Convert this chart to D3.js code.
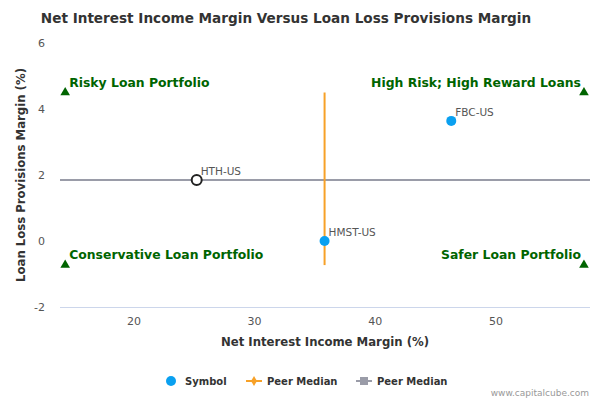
<!DOCTYPE html>
<html><head><meta charset="utf-8">
<script src="https://cdn.jsdelivr.net/npm/d3@7"></script>
<style>body{margin:0;background:#fff}text{font-family:"DejaVu Sans",sans-serif}</style>
</head><body><svg id="c" width="600" height="400"></svg>
<script>
// data
var symbols = ["FBC-US", "HTH-US", "HMST-US"];
var nimValues = [46.3, 25.2, 35.8];
var llpValues = [3.64, 1.85, 0.0];
var highlighted = ["HTH-US"];
var peerMedianX = 35.8, peerMedianY = 1.85;
var vLineY = [4.5, -0.73];
var quadLabels = ["Risky Loan Portfolio", "High Risk; High Reward Loans", "Conservative Loan Portfolio", "Safer Loan Portfolio"];
var quadX = [14.3, 57.3, 14.3, 57.3];
var quadY = [4.5, 4.5, -0.73, -0.73];
var xTicks = [20, 30, 40, 50];
var yTicks = [-2, 0, 2, 4, 6];

var svg = d3.select("#c");
var x = d3.scaleLinear().domain([13.87, 57.8]).range([60, 590]);
var y = d3.scaleLinear().domain([-2, 6]).range([307, 43]);

svg.append("text").attr("x", 286).attr("y", 23).attr("text-anchor", "middle")
  .attr("font-size", 13.6).attr("font-weight", "bold").attr("fill", "#333")
  .text("Net Interest Income Margin Versus Loan Loss Provisions Margin");

svg.append("line").attr("x1", 60).attr("x2", 590).attr("y1", 307.5).attr("y2", 307.5)
  .attr("stroke", "#ccd6eb");

xTicks.forEach(function(t){
  svg.append("text").attr("x", x(t)).attr("y", 325).attr("text-anchor", "middle")
    .attr("font-size", 11).attr("fill", "#555").text(t);
});
yTicks.forEach(function(t){
  svg.append("text").attr("x", 45).attr("y", y(t) + 4).attr("text-anchor", "end")
    .attr("font-size", 11).attr("fill", "#555").text(t);
});
svg.append("text").attr("x", 325).attr("y", 346).attr("text-anchor", "middle")
  .attr("font-size", 11.7).attr("font-weight", "bold").attr("fill", "#333")
  .text("Net Interest Income Margin (%)");
svg.append("text").attr("transform", "translate(25," + y(2) + ") rotate(-90)")
  .attr("text-anchor", "middle").attr("font-size", 11.7).attr("font-weight", "bold").attr("fill", "#333")
  .text("Loan Loss Provisions Margin (%)");

// peer medians
svg.append("line").attr("x1", 60).attr("x2", 590).attr("y1", y(peerMedianY)).attr("y2", y(peerMedianY))
  .attr("stroke", "#9a9ca8").attr("stroke-width", 2);
svg.append("line").attr("x1", x(peerMedianX)).attr("x2", x(peerMedianX))
  .attr("y1", y(vLineY[0])).attr("y2", y(vLineY[1]))
  .attr("stroke", "#f7a128").attr("stroke-width", 2);

// quadrant labels
var tri = d3.symbol().type(d3.symbolTriangle).size(40);
quadLabels.forEach(function(l, i){
  svg.append("path").attr("d", tri).attr("transform", "translate(" + x(quadX[i]) + "," + y(quadY[i]) + ")")
    .attr("fill", "#006400");
  var right = i % 2 == 1;
  svg.append("text").attr("x", right ? x(quadX[i]) - 3 : x(quadX[i]) + 4).attr("y", y(quadY[i]) - 6)
    .attr("text-anchor", right ? "end" : "start").attr("font-size", 12.4).attr("font-weight", "bold")
    .attr("fill", "#006400").text(l);
});

// points
symbols.forEach(function(s, i){
  var hl = highlighted.indexOf(s) >= 0;
  svg.append("circle").attr("cx", x(nimValues[i])).attr("cy", y(llpValues[i])).attr("r", 5)
    .attr("fill", hl ? "#fff" : "#0aa0f0").attr("stroke", hl ? "#222" : "none").attr("stroke-width", 2);
  svg.append("text").attr("x", x(nimValues[i]) + 4).attr("y", y(llpValues[i]) - 5)
    .attr("font-size", 10.5).attr("fill", "#555").text(s);
});

// legend
var lg = svg.append("g").attr("font-size", 10).attr("font-weight", "bold").attr("fill", "#333");
lg.append("circle").attr("cx", 171).attr("cy", 381).attr("r", 5).attr("fill", "#0aa0f0");
lg.append("text").attr("x", 185).attr("y", 385).text("Symbol");
lg.append("line").attr("x1", 246).attr("x2", 262).attr("y1", 381).attr("y2", 381).attr("stroke", "#f7a128").attr("stroke-width", 2);
lg.append("path").attr("d", d3.symbol().type(d3.symbolDiamond).size(30)).attr("transform", "translate(254,381)").attr("fill", "#f7a128");
lg.append("text").attr("x", 267).attr("y", 385).text("Peer Median");
lg.append("line").attr("x1", 356).attr("x2", 372).attr("y1", 381).attr("y2", 381).attr("stroke", "#9a9ca8").attr("stroke-width", 2);
lg.append("rect").attr("x", 360).attr("y", 377).attr("width", 8).attr("height", 8).attr("fill", "#9a9ca8");
lg.append("text").attr("x", 377).attr("y", 385).text("Peer Median");
svg.append("text").attr("x", 589).attr("y", 396).attr("text-anchor", "end").attr("font-size", 9)
  .attr("fill", "#999").text("www.capitalcube.com");
</script></body></html>
